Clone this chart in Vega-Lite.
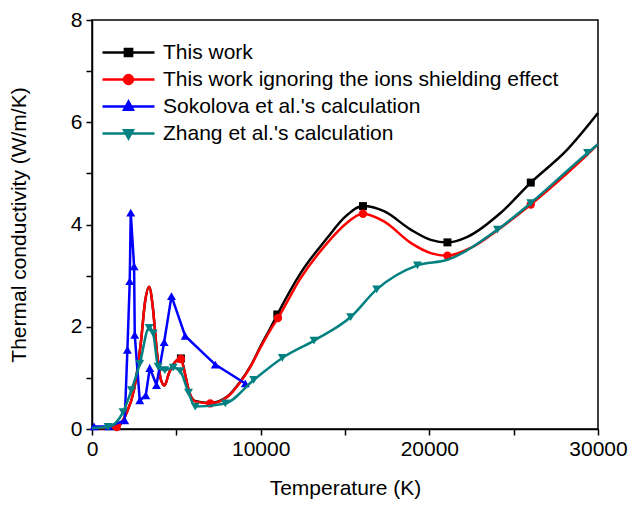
{
  "$schema": "https://vega.github.io/schema/vega-lite/v6.json",
  "width": 506,
  "height": 409,
  "autosize": "none",
  "padding": {"left": 92, "top": 20, "right": 32, "bottom": 76},
  "background": "white",
  "config": {
    "font": "Liberation Sans",
    "view": {"stroke": "black", "strokeWidth": 1.5},
    "axis": {
      "domainColor": "black", "domainWidth": 1.5, "tickColor": "black", "tickWidth": 1.5, "tickSize": 6,
      "labelColor": "black", "titleColor": "black", "labelFontSize": 21, "titleFontSize": 21,
      "titleFontWeight": "normal", "grid": false, "labelFont": "Liberation Sans", "titleFont": "Liberation Sans",
      "labelOverlap": false, "labelFlush": false
    },
    "legend": {"labelFont": "Liberation Sans", "title": null, "orient": "none", "legendX": 26, "legendY": 22, "padding": 0,
      "labelFontSize": 21, "labelColor": "black", "symbolSize": 64, "symbolStrokeWidth": 2.5,
      "labelOffset": 24, "rowPadding": 5, "labelLimit": 600,
      "labelExpr": "(datum.label[0] === 'S' || datum.label[0] === 'Z') ? '\u00a0' + datum.label : datum.label"}
  },
  "datasets": {
    "lines": [
      {"s": "This work", "T": 0, "k": 0.02}, {"s": "This work", "T": 1000, "k": 0.02}, {"s": "This work", "T": 1500, "k": 0.04},
      {"s": "This work", "T": 2000, "k": 0.28}, {"s": "This work", "T": 2500, "k": 0.78}, {"s": "This work", "T": 2900, "k": 1.7},
      {"s": "This work", "T": 3150, "k": 2.5}, {"s": "This work", "T": 3387, "k": 2.78}, {"s": "This work", "T": 3600, "k": 2.4},
      {"s": "This work", "T": 3850, "k": 1.5}, {"s": "This work", "T": 4100, "k": 0.95}, {"s": "This work", "T": 4300, "k": 0.85},
      {"s": "This work", "T": 4550, "k": 1.08}, {"s": "This work", "T": 4900, "k": 1.3}, {"s": "This work", "T": 5270, "k": 1.38},
      {"s": "This work", "T": 5500, "k": 1.1}, {"s": "This work", "T": 5723, "k": 0.77}, {"s": "This work", "T": 6100, "k": 0.55},
      {"s": "This work", "T": 7011, "k": 0.51}, {"s": "This work", "T": 8000, "k": 0.63}, {"s": "This work", "T": 8800, "k": 0.93},
      {"s": "This work", "T": 9400, "k": 1.23}, {"s": "This work", "T": 10000, "k": 1.62}, {"s": "This work", "T": 10600, "k": 1.99},
      {"s": "This work", "T": 10988, "k": 2.24}, {"s": "This work", "T": 12370, "k": 3.05}, {"s": "This work", "T": 13954, "k": 3.74},
      {"s": "This work", "T": 15000, "k": 4.15}, {"s": "This work", "T": 16067, "k": 4.36}, {"s": "This work", "T": 17312, "k": 4.26},
      {"s": "This work", "T": 18897, "k": 3.9}, {"s": "This work", "T": 20083, "k": 3.7}, {"s": "This work", "T": 21074, "k": 3.65},
      {"s": "This work", "T": 22260, "k": 3.76}, {"s": "This work", "T": 24236, "k": 4.23}, {"s": "This work", "T": 26016, "k": 4.82},
      {"s": "This work", "T": 28193, "k": 5.47}, {"s": "This work", "T": 30000, "k": 6.18},

      {"s": "This work ignoring the ions shielding effect", "T": 0, "k": 0.02}, {"s": "This work ignoring the ions shielding effect", "T": 1000, "k": 0.02},
      {"s": "This work ignoring the ions shielding effect", "T": 1466, "k": 0.04}, {"s": "This work ignoring the ions shielding effect", "T": 2000, "k": 0.28},
      {"s": "This work ignoring the ions shielding effect", "T": 2500, "k": 0.78}, {"s": "This work ignoring the ions shielding effect", "T": 2900, "k": 1.7},
      {"s": "This work ignoring the ions shielding effect", "T": 3150, "k": 2.5}, {"s": "This work ignoring the ions shielding effect", "T": 3387, "k": 2.78},
      {"s": "This work ignoring the ions shielding effect", "T": 3600, "k": 2.4}, {"s": "This work ignoring the ions shielding effect", "T": 3850, "k": 1.5},
      {"s": "This work ignoring the ions shielding effect", "T": 4100, "k": 0.95}, {"s": "This work ignoring the ions shielding effect", "T": 4300, "k": 0.85},
      {"s": "This work ignoring the ions shielding effect", "T": 4550, "k": 1.08}, {"s": "This work ignoring the ions shielding effect", "T": 4900, "k": 1.3},
      {"s": "This work ignoring the ions shielding effect", "T": 5270, "k": 1.37}, {"s": "This work ignoring the ions shielding effect", "T": 5500, "k": 1.1},
      {"s": "This work ignoring the ions shielding effect", "T": 5723, "k": 0.77}, {"s": "This work ignoring the ions shielding effect", "T": 6100, "k": 0.54},
      {"s": "This work ignoring the ions shielding effect", "T": 7011, "k": 0.5}, {"s": "This work ignoring the ions shielding effect", "T": 8000, "k": 0.62},
      {"s": "This work ignoring the ions shielding effect", "T": 8800, "k": 0.92}, {"s": "This work ignoring the ions shielding effect", "T": 9400, "k": 1.22},
      {"s": "This work ignoring the ions shielding effect", "T": 10000, "k": 1.6}, {"s": "This work ignoring the ions shielding effect", "T": 10600, "k": 1.95},
      {"s": "This work ignoring the ions shielding effect", "T": 11024, "k": 2.17}, {"s": "This work ignoring the ions shielding effect", "T": 12370, "k": 2.95},
      {"s": "This work ignoring the ions shielding effect", "T": 13954, "k": 3.64}, {"s": "This work ignoring the ions shielding effect", "T": 15000, "k": 4.0},
      {"s": "This work ignoring the ions shielding effect", "T": 16067, "k": 4.21}, {"s": "This work ignoring the ions shielding effect", "T": 17312, "k": 4.06},
      {"s": "This work ignoring the ions shielding effect", "T": 18897, "k": 3.64}, {"s": "This work ignoring the ions shielding effect", "T": 20083, "k": 3.44},
      {"s": "This work ignoring the ions shielding effect", "T": 21074, "k": 3.39}, {"s": "This work ignoring the ions shielding effect", "T": 22500, "k": 3.55},
      {"s": "This work ignoring the ions shielding effect", "T": 24000, "k": 3.88}, {"s": "This work ignoring the ions shielding effect", "T": 26016, "k": 4.39},
      {"s": "This work ignoring the ions shielding effect", "T": 28000, "k": 4.95}, {"s": "This work ignoring the ions shielding effect", "T": 29380, "k": 5.37},
      {"s": "This work ignoring the ions shielding effect", "T": 30000, "k": 5.57},

      {"s": "Sokolova et al.'s calculation", "T": 119, "k": 0.05}, {"s": "Sokolova et al.'s calculation", "T": 1000, "k": 0.05},
      {"s": "Sokolova et al.'s calculation", "T": 1941, "k": 0.17}, {"s": "Sokolova et al.'s calculation", "T": 2099, "k": 1.55},
      {"s": "Sokolova et al.'s calculation", "T": 2238, "k": 2.89}, {"s": "Sokolova et al.'s calculation", "T": 2297, "k": 4.23},
      {"s": "Sokolova et al.'s calculation", "T": 2496, "k": 3.18}, {"s": "Sokolova et al.'s calculation", "T": 2535, "k": 1.84},
      {"s": "Sokolova et al.'s calculation", "T": 2832, "k": 0.56}, {"s": "Sokolova et al.'s calculation", "T": 3189, "k": 0.66},
      {"s": "Sokolova et al.'s calculation", "T": 3426, "k": 1.19}, {"s": "Sokolova et al.'s calculation", "T": 3822, "k": 0.86},
      {"s": "Sokolova et al.'s calculation", "T": 4278, "k": 1.7}, {"s": "Sokolova et al.'s calculation", "T": 4713, "k": 2.6},
      {"s": "Sokolova et al.'s calculation", "T": 5526, "k": 1.82}, {"s": "Sokolova et al.'s calculation", "T": 7308, "k": 1.26},
      {"s": "Sokolova et al.'s calculation", "T": 9091, "k": 0.89},

      {"s": "Zhang et al.'s calculation", "T": 0, "k": 0.02}, {"s": "Zhang et al.'s calculation", "T": 951, "k": 0.04},
      {"s": "Zhang et al.'s calculation", "T": 1842, "k": 0.33}, {"s": "Zhang et al.'s calculation", "T": 2337, "k": 0.76},
      {"s": "Zhang et al.'s calculation", "T": 2832, "k": 1.28}, {"s": "Zhang et al.'s calculation", "T": 3387, "k": 1.98},
      {"s": "Zhang et al.'s calculation", "T": 3625, "k": 1.87}, {"s": "Zhang et al.'s calculation", "T": 3922, "k": 1.22},
      {"s": "Zhang et al.'s calculation", "T": 4318, "k": 1.15}, {"s": "Zhang et al.'s calculation", "T": 4813, "k": 1.2},
      {"s": "Zhang et al.'s calculation", "T": 5229, "k": 1.13}, {"s": "Zhang et al.'s calculation", "T": 5723, "k": 0.71},
      {"s": "Zhang et al.'s calculation", "T": 6120, "k": 0.44}, {"s": "Zhang et al.'s calculation", "T": 7903, "k": 0.5},
      {"s": "Zhang et al.'s calculation", "T": 9586, "k": 0.96}, {"s": "Zhang et al.'s calculation", "T": 11284, "k": 1.39},
      {"s": "Zhang et al.'s calculation", "T": 13160, "k": 1.73}, {"s": "Zhang et al.'s calculation", "T": 15337, "k": 2.19},
      {"s": "Zhang et al.'s calculation", "T": 16880, "k": 2.73}, {"s": "Zhang et al.'s calculation", "T": 19293, "k": 3.2},
      {"s": "Zhang et al.'s calculation", "T": 21074, "k": 3.31}, {"s": "Zhang et al.'s calculation", "T": 24040, "k": 3.9},
      {"s": "Zhang et al.'s calculation", "T": 26016, "k": 4.42}, {"s": "Zhang et al.'s calculation", "T": 29380, "k": 5.4},
      {"s": "Zhang et al.'s calculation", "T": 30000, "k": 5.57}
    ],
    "markers": [
      {"s": "This work", "T": 5270, "k": 1.38}, {"s": "This work", "T": 10988, "k": 2.24}, {"s": "This work", "T": 16067, "k": 4.36},
      {"s": "This work", "T": 21074, "k": 3.65}, {"s": "This work", "T": 26016, "k": 4.82},
      {"s": "This work ignoring the ions shielding effect", "T": 1466, "k": 0.04}, {"s": "This work ignoring the ions shielding effect", "T": 5270, "k": 1.37},
      {"s": "This work ignoring the ions shielding effect", "T": 7011, "k": 0.5}, {"s": "This work ignoring the ions shielding effect", "T": 11024, "k": 2.17},
      {"s": "This work ignoring the ions shielding effect", "T": 16067, "k": 4.21}, {"s": "This work ignoring the ions shielding effect", "T": 21074, "k": 3.39},
      {"s": "This work ignoring the ions shielding effect", "T": 26016, "k": 4.39},
      {"s": "Sokolova et al.'s calculation", "T": 119, "k": 0.05}, {"s": "Sokolova et al.'s calculation", "T": 1000, "k": 0.05},
      {"s": "Sokolova et al.'s calculation", "T": 1941, "k": 0.17}, {"s": "Sokolova et al.'s calculation", "T": 2099, "k": 1.55},
      {"s": "Sokolova et al.'s calculation", "T": 2238, "k": 2.89}, {"s": "Sokolova et al.'s calculation", "T": 2297, "k": 4.23},
      {"s": "Sokolova et al.'s calculation", "T": 2496, "k": 3.18}, {"s": "Sokolova et al.'s calculation", "T": 2535, "k": 1.84},
      {"s": "Sokolova et al.'s calculation", "T": 2832, "k": 0.56}, {"s": "Sokolova et al.'s calculation", "T": 3189, "k": 0.66},
      {"s": "Sokolova et al.'s calculation", "T": 3426, "k": 1.19}, {"s": "Sokolova et al.'s calculation", "T": 3822, "k": 0.86},
      {"s": "Sokolova et al.'s calculation", "T": 4278, "k": 1.7}, {"s": "Sokolova et al.'s calculation", "T": 4713, "k": 2.6},
      {"s": "Sokolova et al.'s calculation", "T": 5526, "k": 1.82}, {"s": "Sokolova et al.'s calculation", "T": 7308, "k": 1.26},
      {"s": "Sokolova et al.'s calculation", "T": 9091, "k": 0.89},
      {"s": "Zhang et al.'s calculation", "T": 951, "k": 0.04}, {"s": "Zhang et al.'s calculation", "T": 1842, "k": 0.33},
      {"s": "Zhang et al.'s calculation", "T": 2337, "k": 0.76}, {"s": "Zhang et al.'s calculation", "T": 2832, "k": 1.28},
      {"s": "Zhang et al.'s calculation", "T": 3387, "k": 1.98}, {"s": "Zhang et al.'s calculation", "T": 3625, "k": 1.87},
      {"s": "Zhang et al.'s calculation", "T": 3922, "k": 1.22}, {"s": "Zhang et al.'s calculation", "T": 4318, "k": 1.15},
      {"s": "Zhang et al.'s calculation", "T": 4813, "k": 1.2}, {"s": "Zhang et al.'s calculation", "T": 5229, "k": 1.13},
      {"s": "Zhang et al.'s calculation", "T": 5723, "k": 0.71}, {"s": "Zhang et al.'s calculation", "T": 6120, "k": 0.44},
      {"s": "Zhang et al.'s calculation", "T": 7903, "k": 0.5}, {"s": "Zhang et al.'s calculation", "T": 9586, "k": 0.96},
      {"s": "Zhang et al.'s calculation", "T": 11284, "k": 1.39}, {"s": "Zhang et al.'s calculation", "T": 13160, "k": 1.73},
      {"s": "Zhang et al.'s calculation", "T": 15337, "k": 2.19}, {"s": "Zhang et al.'s calculation", "T": 16880, "k": 2.73},
      {"s": "Zhang et al.'s calculation", "T": 19293, "k": 3.2}, {"s": "Zhang et al.'s calculation", "T": 24040, "k": 3.9},
      {"s": "Zhang et al.'s calculation", "T": 26016, "k": 4.42}, {"s": "Zhang et al.'s calculation", "T": 29380, "k": 5.4}
    ]
  },
  "encoding": {
    "x": {"field": "T", "type": "quantitative", "title": "Temperature (K)",
      "scale": {"domain": [0, 30000], "nice": false},
      "axis": {"values": [0, 5000, 10000, 15000, 20000, 25000, 30000], "format": "d",
        "labelExpr": "datum.value % 10000 === 0 ? datum.label : ''", "labelPadding": 3, "titlePadding": 18}},
    "y": {"field": "k", "type": "quantitative", "title": "Thermal conductivity (W/m/K)",
      "scale": {"domain": [0, 8], "nice": false},
      "axis": {"values": [0, 1, 2, 3, 4, 5, 6, 7, 8],
        "labelExpr": "datum.value % 2 === 0 ? datum.label : ''", "labelPadding": 4, "titlePadding": 41}}
  },
  "layer": [
    {"data": {"name": "lines"}, "transform": [{"filter": {"field": "s", "equal": "This work"}}],
     "mark": {"type": "line", "strokeWidth": 2.5, "interpolate": "monotone", "color": "#000000"}},
    {"data": {"name": "markers"}, "transform": [{"filter": {"field": "s", "equal": "This work"}}],
     "mark": {"type": "point", "shape": "square", "filled": true, "size": 64, "opacity": 1, "color": "#000000"}},
    {"data": {"name": "lines"}, "transform": [{"filter": {"field": "s", "equal": "This work ignoring the ions shielding effect"}}],
     "mark": {"type": "line", "strokeWidth": 2.5, "interpolate": "monotone", "color": "#ff0000"}},
    {"data": {"name": "markers"}, "transform": [{"filter": {"field": "s", "equal": "This work ignoring the ions shielding effect"}}],
     "mark": {"type": "point", "shape": "circle", "filled": true, "size": 70, "opacity": 1, "color": "#ff0000"}},
    {"data": {"name": "lines"}, "transform": [{"filter": {"field": "s", "equal": "Sokolova et al.'s calculation"}}],
     "mark": {"type": "line", "strokeWidth": 2.5, "interpolate": "linear", "color": "#0000ff"}},
    {"data": {"name": "markers"}, "transform": [{"filter": {"field": "s", "equal": "Sokolova et al.'s calculation"}}],
     "mark": {"type": "point", "shape": "triangle-up", "filled": true, "size": 80, "opacity": 1, "color": "#0000ff"}},
    {"data": {"name": "lines"}, "transform": [{"filter": {"field": "s", "equal": "Zhang et al.'s calculation"}}],
     "mark": {"type": "line", "strokeWidth": 2.5, "interpolate": "monotone", "color": "#008080"}},
    {"data": {"name": "markers"}, "transform": [{"filter": {"field": "s", "equal": "Zhang et al.'s calculation"}}],
     "mark": {"type": "point", "shape": "triangle-down", "filled": true, "size": 80, "opacity": 1, "color": "#008080"}},
    {"data": {"name": "markers"}, "transform": [{"filter": "false"}],
     "mark": {"type": "point", "size": 64, "opacity": 1, "strokeWidth": 2.5},
     "encoding": {
       "fill": {"field": "s", "type": "nominal",
         "scale": {"domain": ["This work", "This work ignoring the ions shielding effect", "Sokolova et al.'s calculation", "Zhang et al.'s calculation"],
           "range": ["#000000", "#ff0000", "#0000ff", "#008080"]}},
       "stroke": {"field": "s", "type": "nominal",
         "scale": {"domain": ["This work", "This work ignoring the ions shielding effect", "Sokolova et al.'s calculation", "Zhang et al.'s calculation"],
           "range": ["#000000", "#ff0000", "#0000ff", "#008080"]}},
       "shape": {"field": "s", "type": "nominal",
         "scale": {"domain": ["This work", "This work ignoring the ions shielding effect", "Sokolova et al.'s calculation", "Zhang et al.'s calculation"],
           "range": ["M-6.5,0H6.5M-0.9,-0.9H0.9V0.9H-0.9Z", "M-6.5,0H6.5M1.1,0A1.1,1.1 0 1,1 -1.1,0A1.1,1.1 0 1,1 1.1,0Z", "M-6.5,0H6.5M0,-1.2L1.1,0.8H-1.1Z", "M-6.5,0H6.5M0,1.2L1.1,-0.8H-1.1Z"]}}
     }}
  ]
}
